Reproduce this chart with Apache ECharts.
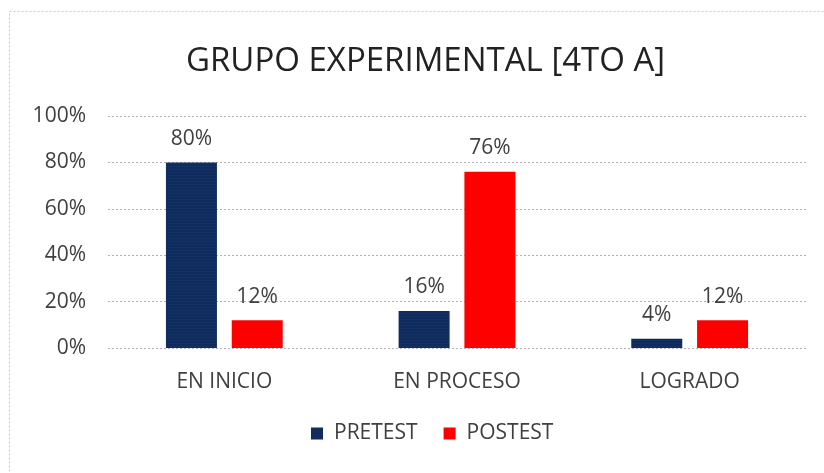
<!DOCTYPE html>
<html>
<head>
<meta charset="utf-8">
<script src="https://cdn.jsdelivr.net/npm/echarts@6/dist/echarts.min.js"></script>
<style>
  html, body { margin: 0; padding: 0; background: #fff; }
  #chart { width: 824px; height: 473px; }
</style>
</head>
<body>
<div id="chart"></div>
<script>
// datos del grafico
const categories = ['EN INICIO', 'EN PROCESO', 'LOGRADO']
const pretest = [80, 16, 4]
const postest = [12, 76, 12]
const yTicks = [0, 20, 40, 60, 80, 100]

const chart = echarts.init(document.getElementById('chart'))

const labelStyle = {
  show: true,
  position: 'top',
  distance: 13,
  formatter: '{c}%',
  fontFamily: 'Open Sans',
  fontSize: 21,
  color: '#404040'
}

const option = {
  animation: false,
  backgroundColor: '#fff',
  graphic: [{
    type: 'rect',
    shape: { x: 9.5, y: 11.5, width: 900, height: 600 },
    style: { fill: 'none', stroke: '#c8c8c8', lineWidth: 1, lineDash: [2, 2] }
  }],
  title: {
    text: 'GRUPO EXPERIMENTAL [4TO A]',
    left: 181,
    top: 40,
    textStyle: {
      fontFamily: 'Open Sans',
      fontWeight: 'normal',
      fontSize: 33,
      color: '#222'
    }
  },
  legend: {
    bottom: 24,
    left: 306,
    itemWidth: 12,
    itemHeight: 12,
    itemGap: 26,
    icon: 'rect',
    textStyle: { fontFamily: 'Open Sans', fontSize: 21, color: '#404040', padding: [0, 0, 0, 6] },
    data: ['PRETEST', 'POSTEST']
  },
  grid: { left: 108, right: 18, top: 116, bottom: 125 },
  xAxis: {
    type: 'category',
    data: categories,
    axisLine: { show: false },
    axisTick: { show: false },
    axisLabel: {
      margin: 24,
      fontFamily: 'Open Sans',
      fontSize: 21,
      color: '#404040'
    }
  },
  yAxis: {
    type: 'value',
    min: yTicks[0],
    max: yTicks[yTicks.length - 1],
    interval: 20,
    axisLabel: {
      formatter: '{value}%',
      margin: 22,
      fontFamily: 'Open Sans',
      fontSize: 21,
      color: '#404040'
    },
    splitLine: { lineStyle: { color: '#b4aebb', type: [2, 2], width: 1 } }
  },
  series: [
    {
      name: 'PRETEST',
      type: 'bar',
      data: pretest,
      barWidth: 51,
      barGap: '29%',
      itemStyle: {
        color: '#0f2a5c',
        decal: {
          symbol: 'circle',
          symbolSize: 0.5,
          color: 'rgba(60,110,150,0.6)',
          dashArrayX: [1, 0],
          dashArrayY: [3, 0]
        }
      },
      label: labelStyle
    },
    {
      name: 'POSTEST',
      type: 'bar',
      data: postest,
      barWidth: 51,
      itemStyle: { color: '#ff0000' },
      label: labelStyle
    }
  ]
}

chart.setOption(option)
</script>
</body>
</html>
